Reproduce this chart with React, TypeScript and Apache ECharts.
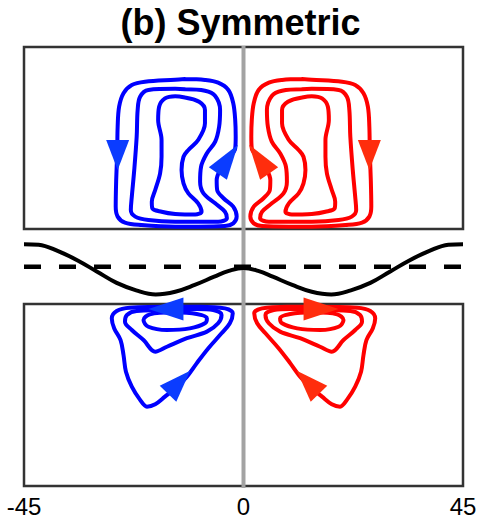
import { useEffect, useRef } from "react";
import * as echarts from "echarts";

// x: latitude (deg), y: height in panel (0 = bottom, 100 = top)
const xTickValues = [-45, 0, 45];
const xTickLabels = ["-45", "0", "45"];

// Upper panel, southern (blue) cell contours
const upperOuter = [
  [-12.0, 82.4], [-14.0, 82.0], [-20.2, 80.9], [-22.9, 79.1], [-24.6, 74.6], [-25.5, 67.2],
  [-25.8, 56.2], [-25.9, 41.6], [-26.1, 26.9], [-26.2, 12.3], [-25.8, 6.8], [-24.3, 3.5],
  [-20.9, 2.2], [-14.0, 1.3], [-9.3, 1.3], [-3.8, 1.6], [-2.1, 3.1], [-1.4, 6.8],
  [-2.1, 12.3], [-4.1, 16.9], [-5.4, 21.4], [-5.5, 26.9], [-4.8, 32.4], [-3.1, 38.8],
  [-1.7, 44.3], [-1.6, 50.7], [-1.7, 59.9], [-2.1, 69.1], [-3.1, 76.4], [-5.2, 80.4],
  [-7.9, 81.9], [-12.0, 82.4],
];
const upperMiddle = [
  [-12.0, 76.8], [-14.0, 77.0], [-19.5, 76.4], [-21.2, 72.7], [-21.7, 65.4], [-21.9, 50.7],
  [-22.4, 32.4], [-22.9, 17.7], [-23.1, 10.4], [-22.2, 6.8], [-19.5, 4.9], [-14.0, 4.0],
  [-9.3, 4.0], [-5.2, 4.0], [-3.4, 5.9], [-3.8, 9.5], [-5.8, 14.1], [-8.2, 19.6],
  [-8.9, 26.0], [-8.7, 34.2], [-7.5, 41.6], [-5.8, 48.0], [-5.0, 56.2], [-4.8, 65.4],
  [-5.8, 73.1], [-7.9, 76.0], [-12.0, 76.8],
];
const upperInner = [
  [-12.0, 72.3], [-14.0, 73.0], [-16.1, 71.8], [-17.3, 67.2], [-17.5, 59.9], [-16.8, 48.9],
  [-16.8, 39.7], [-17.1, 30.6], [-18.1, 21.4], [-18.8, 15.0], [-18.7, 11.4], [-16.8, 9.5],
  [-14.0, 8.2], [-12.0, 8.0], [-9.9, 8.0], [-8.6, 9.5], [-9.3, 14.1], [-11.3, 19.6],
  [-12.3, 25.1], [-12.7, 32.4], [-12.3, 39.7], [-11.3, 43.4], [-9.3, 48.9], [-7.9, 58.1],
  [-7.9, 65.4], [-9.1, 69.9], [-12.0, 72.3],
];

// Lower panel, southern (blue) cell contours
const lowerOuter = [
  [-14.4, 98.5], [-23.3, 98.0], [-26.0, 96.2], [-27.0, 92.1], [-26.5, 86.6], [-25.2, 80.2],
  [-24.6, 72.0], [-24.1, 62.8], [-22.9, 54.6], [-21.2, 47.3], [-19.8, 43.6], [-18.1, 44.9],
  [-16.1, 49.1], [-14.0, 53.7], [-11.6, 60.1], [-9.6, 67.4], [-7.2, 75.7], [-4.5, 83.9],
  [-2.8, 89.4], [-2.2, 94.9], [-3.8, 97.6], [-8.9, 98.5], [-14.4, 98.5],
];
const lowerMiddle = [
  [-14.4, 96.7], [-21.9, 96.2], [-23.9, 94.0], [-24.3, 90.3], [-22.9, 85.7], [-20.5, 80.2],
  [-18.1, 73.8], [-15.7, 76.5], [-11.6, 81.2], [-7.5, 84.8], [-5.2, 89.4], [-4.5, 94.0],
  [-6.2, 96.7], [-9.6, 97.3], [-14.4, 96.7],
];
const lowerInner = [
  [-14.4, 95.4], [-19.2, 94.3], [-20.5, 91.2], [-19.5, 87.5], [-15.7, 85.7], [-11.0, 86.6],
  [-7.9, 89.4], [-7.5, 92.1], [-9.6, 94.5], [-14.4, 95.4],
];

// Flow arrows of the southern cell: position and direction (deg, counter-clockwise from up)
const upperArrowPoints = [[-25.8, 40.7], [-3.2, 38.4]];
const upperArrowAngles = [180, -35];
const lowerArrowPoints = [[-15.9, 97.3], [-13.2, 57.0]];
const lowerArrowAngles = [90, -44];

// Surface displacement (southern half; mirrored), dashed reference at 0
const surfaceHalf = [
  [-45, 2.25], [-42, 2.2], [-38, 1.55], [-34, 0.63], [-30, -0.5], [-26, -1.62],
  [-22, -2.36], [-18, -2.77], [-14, -2.5], [-10, -1.82], [-6, -1.0], [-3, -0.42], [0, -0.12],
];
const referenceLevel = [[-45, 0], [45, 0]];

const BLUE = "#0000ff";
const RED = "#ff0000";
const BLUE_ARROW = "#0b3cff";
const RED_ARROW = "#ff2d0d";
const FONT = "'Liberation Sans', Arial, Helvetica, sans-serif";

const mirror = (pts: number[][]) => pts.map(([x, y]) => [-x, y]);

function contour(data: number[][], color: string, idx: number) {
  return {
    type: "line",
    xAxisIndex: idx,
    yAxisIndex: idx,
    data,
    smooth: 0.35,
    showSymbol: false,
    symbol: "none",
    clip: false,
    z: 5,
    lineStyle: { color, width: 4, cap: "round", join: "round" },
  };
}

function arrows(points: number[][], angles: number[], color: string, idx: number, sizes: number[][]) {
  return {
    type: "scatter",
    xAxisIndex: idx,
    yAxisIndex: idx,
    clip: false,
    z: 6,
    data: points.map((p, i) => ({
      value: p,
      symbolRotate: angles[i],
      symbolSize: sizes[i],
    })),
    symbol: "triangle",
    itemStyle: { color, opacity: 1 },
  };
}

export default function App() {
  const ref = useRef<HTMLDivElement>(null);
  useEffect(() => {
    const chart = echarts.init(ref.current!, null, { renderer: "svg" });
    const L = 24;
    const W = 439;
    const hiddenX = (gi: number) => ({
      type: "value", gridIndex: gi, min: -45, max: 45, show: false,
    });
    const surface = [...surfaceHalf, ...mirror(surfaceHalf).reverse().slice(1)];
    const option: any = {
      animation: false,
      title: {
        text: "(b) Symmetric",
        left: "center",
        top: -1,
        textStyle: { fontSize: 36, fontWeight: "bold", color: "#000", fontFamily: FONT },
      },
      grid: [
        { left: L, width: W, top: 47, height: 182, show: true, borderColor: "#333", borderWidth: 2.5, backgroundColor: "transparent" },
        { left: L, width: W, top: 229, height: 75, show: false },
        { left: L, width: W, top: 304, height: 182, show: true, borderColor: "#333", borderWidth: 2.5, backgroundColor: "transparent" },
        { left: L, width: W, top: 46, height: 442, show: false },
      ],
      xAxis: [
        hiddenX(0),
        hiddenX(1),
        {
          type: "value", gridIndex: 2, min: -45, max: 45, interval: 45,
          axisLine: { show: false }, axisTick: { show: false }, splitLine: { show: false },
          axisLabel: {
            show: true, fontSize: 24, color: "#000", fontFamily: FONT, margin: 8,
            showMinLabel: true, showMaxLabel: true,
            formatter: (v: number) => xTickLabels[xTickValues.indexOf(v)] ?? "",
          },
        },
        hiddenX(3),
      ],
      yAxis: [
        { type: "value", gridIndex: 0, min: 0, max: 100, show: false },
        { type: "value", gridIndex: 1, min: -3.73, max: 3.77, show: false },
        { type: "value", gridIndex: 2, min: 0, max: 100, show: false },
        { type: "value", gridIndex: 3, min: 0, max: 1, show: false },
      ],
      series: [
        {
          type: "line", xAxisIndex: 3, yAxisIndex: 3, data: [[0, 0], [0, 1]],
          showSymbol: false, symbol: "none", z: 1,
          lineStyle: { color: "#a3a3a3", width: 4 },
        },
        {
          type: "line", xAxisIndex: 1, yAxisIndex: 1, data: surface, smooth: 0.4,
          showSymbol: false, symbol: "none", clip: false, z: 4,
          lineStyle: { color: "#000", width: 4 },
        },
        {
          type: "line", xAxisIndex: 1, yAxisIndex: 1, data: referenceLevel,
          showSymbol: false, symbol: "none", z: 3,
          lineStyle: { color: "#000", width: 4.5, type: [17, 18], cap: "butt" },
        },
        contour(upperOuter, BLUE, 0),
        contour(upperMiddle, BLUE, 0),
        contour(upperInner, BLUE, 0),
        contour(mirror(upperOuter), RED, 0),
        contour(mirror(upperMiddle), RED, 0),
        contour(mirror(upperInner), RED, 0),
        contour(lowerOuter, BLUE, 2),
        contour(lowerMiddle, BLUE, 2),
        contour(lowerInner, BLUE, 2),
        contour(mirror(lowerOuter), RED, 2),
        contour(mirror(lowerMiddle), RED, 2),
        contour(mirror(lowerInner), RED, 2),
        arrows(upperArrowPoints, upperArrowAngles, BLUE_ARROW, 0, [[23, 30], [22, 35]]),
        arrows(mirror(upperArrowPoints), upperArrowAngles.map((a) => -a), RED_ARROW, 0, [[23, 30], [22, 35]]),
        arrows(lowerArrowPoints, lowerArrowAngles, BLUE_ARROW, 2, [[23, 35], [23, 32]]),
        arrows(mirror(lowerArrowPoints), lowerArrowAngles.map((a) => -a), RED_ARROW, 2, [[23, 35], [23, 32]]),
      ],
    };
    chart.setOption(option);
    return () => chart.dispose();
  }, []);
  return (
    <div
      ref={ref}
      style={{ position: "absolute", left: 0, top: 0, width: 481, height: 519 }}
    />
  );
}
